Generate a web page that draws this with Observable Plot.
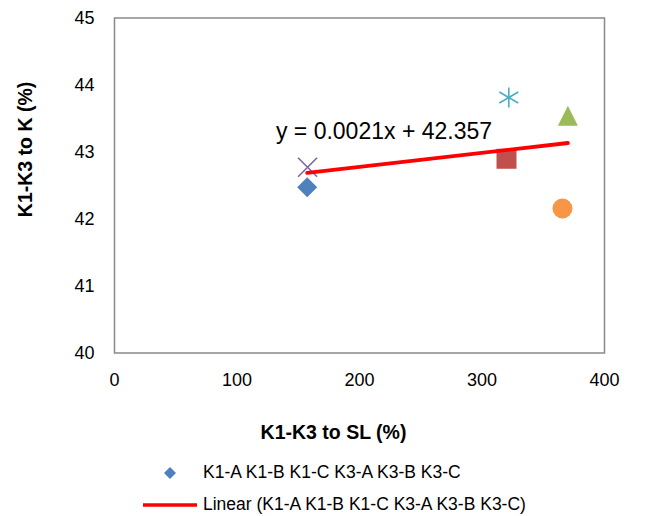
<!DOCTYPE html>
<html><head><meta charset="utf-8">
<script src="https://cdn.jsdelivr.net/npm/d3@7"></script>
<script src="https://cdn.jsdelivr.net/npm/@observablehq/plot@0.6"></script>
<style>
body{margin:0;background:#fff;font-family:"Liberation Sans",Arial,sans-serif;color:#000;}
#wrap{position:relative;width:654px;height:516px;overflow:hidden;}
#wrap svg.chart{position:absolute;left:0;top:0;}
.lrow{position:absolute;left:140px;height:30px;display:flex;align-items:center;font-size:17.5px;white-space:nowrap;}
.lrow svg{display:block;}
.lrow span{margin-left:3px;}
</style></head><body><div id="wrap"></div>
<script>
const series = ["K1-A", "K1-B", "K1-C", "K3-A", "K3-B", "K3-C"];
const xValues = [157.3, 320.0, 370.1, 157.6, 321.9, 365.7];
const yValues = [42.475, 42.899, 43.54, 42.773, 43.813, 42.157];
const colors = ["#4F81BD", "#C0504D", "#9BBB59", "#8064A2", "#4BACC6", "#F79646"];
const markerKinds = ["diamond", "square", "triangle", "times", "asterisk", "circle"];
const xTicks = [0, 100, 200, 300, 400];
const yTicks = [40, 41, 42, 43, 44, 45];
const trendSlope = 0.0021;
const trendIntercept = 42.357;
const equationText = "y = 0.0021x + 42.357";
const xLabel = "K1-K3 to SL (%)";
const yLabel = "K1-K3 to K (%)";
const legendLabels = ["K1-A K1-B K1-C K3-A K3-B K3-C", "Linear (K1-A K1-B K1-C K3-A K3-B K3-C)"];

const FONT = '"Liberation Sans", Arial, sans-serif';
const mk = (f) => ({draw(ctx, size) { f(ctx, Math.sqrt(size / Math.PI)); }});
const symbols = {
  diamond: mk((c, R) => { c.moveTo(0, -R); c.lineTo(R, 0); c.lineTo(0, R); c.lineTo(-R, 0); c.closePath(); }),
  square: mk((c, R) => { c.moveTo(-R, -R); c.lineTo(R, -R); c.lineTo(R, R); c.lineTo(-R, R); c.closePath(); }),
  triangle: mk((c, R) => { c.moveTo(0, -R); c.lineTo(R, R); c.lineTo(-R, R); c.closePath(); }),
  circle: mk((c, R) => { c.moveTo(R, 0); c.arc(0, 0, R, 0, 2 * Math.PI); c.closePath(); }),
  times: mk((c, R) => { const h = R * 0.95; c.moveTo(-h, -h); c.lineTo(h, h); c.moveTo(-h, h); c.lineTo(h, -h); }),
  asterisk: mk((c, R) => { c.moveTo(0, -R); c.lineTo(0, R); c.moveTo(-R * 0.95, -R * 0.55); c.lineTo(R * 0.95, R * 0.55); c.moveTo(-R * 0.95, R * 0.55); c.lineTo(R * 0.95, -R * 0.55); })
};
const strokedKinds = new Set(["times", "asterisk"]);

const points = series.map((name, i) => ({name, x: xValues[i], y: yValues[i], kind: markerKinds[i]}));
const xExtent = d3.extent(xValues);
const trendLine = xExtent.map(x => ({x, y: trendSlope * x + trendIntercept}));
const eqPoint = [{x: 220, y: 43.31, text: equationText}];

const W = 654, H = 455;
const chart = Plot.plot({
  width: W, height: H,
  marginLeft: 114, marginRight: 50, marginTop: 17.5, marginBottom: H - 352.5,
  x: {domain: [0, 400], ticks: xTicks, tickSize: 0, tickPadding: 20, label: null, tickFormat: d => String(d)},
  y: {domain: [40, 45], ticks: yTicks, tickSize: 0, tickPadding: 20, label: null, tickFormat: d => String(d)},
  color: {domain: series, range: colors},
  symbol: {domain: series, range: series.map((_, i) => symbols[markerKinds[i]])},
  style: {fontFamily: FONT, fontSize: "18px", color: "#000", background: "#fff", overflow: "visible"},
  marks: [
    Plot.frame({stroke: "#898989", strokeWidth: 1.5}),
    Plot.dot(points.filter(d => !strokedKinds.has(d.kind)), {x: "x", y: "y", symbol: "name", fill: "name", stroke: "none", r: 10}),
    Plot.dot(points.filter(d => strokedKinds.has(d.kind)), {x: "x", y: "y", symbol: "name", stroke: "name", fill: "none", strokeWidth: 1.6, r: 10}),
    Plot.line(trendLine, {x: "x", y: "y", stroke: "#FF0000", strokeWidth: 3.8, strokeLinecap: "round"}),
    Plot.text(eqPoint, {x: "x", y: "y", text: "text", fontSize: 23, fill: "#000", textAnchor: "middle", lineAnchor: "middle"}),
    Plot.text([xLabel], {frameAnchor: "bottom", text: d => d, dx: -26, dy: 80, fontSize: 19.5, fontWeight: "bold", fill: "#000", textAnchor: "middle", lineAnchor: "middle"}),
    Plot.text([yLabel], {frameAnchor: "left", text: d => d, dx: -89, dy: -36, rotate: -90, fontSize: 19.5, fontWeight: "bold", fill: "#000", textAnchor: "middle", lineAnchor: "middle"})
  ]
});
chart.classList.add("chart");
const wrap = document.getElementById("wrap");
wrap.appendChild(chart);

// legend below the chart
const rowCenters = [472.7, 504.5];
const NS = "http://www.w3.org/2000/svg";
legendLabels.forEach((label, i) => {
  const row = document.createElement("div");
  row.className = "lrow";
  row.style.top = (rowCenters[i] - 15) + "px";
  const sw = document.createElementNS(NS, "svg");
  sw.setAttribute("width", 60); sw.setAttribute("height", 30);
  if (i === 0) {
    const p = document.createElementNS(NS, "path");
    p.setAttribute("d", "M30,9 L36,15 L30,21 L24,15 Z");
    p.setAttribute("fill", colors[0]);
    sw.appendChild(p);
  } else {
    const l = document.createElementNS(NS, "line");
    l.setAttribute("x1", 3); l.setAttribute("x2", 57);
    l.setAttribute("y1", 15); l.setAttribute("y2", 15);
    l.setAttribute("stroke", "#FF0000"); l.setAttribute("stroke-width", 3.5);
    sw.appendChild(l);
  }
  row.appendChild(sw);
  const t = document.createElement("span");
  t.textContent = label;
  row.appendChild(t);
  wrap.appendChild(row);
});
</script>
</body></html>
